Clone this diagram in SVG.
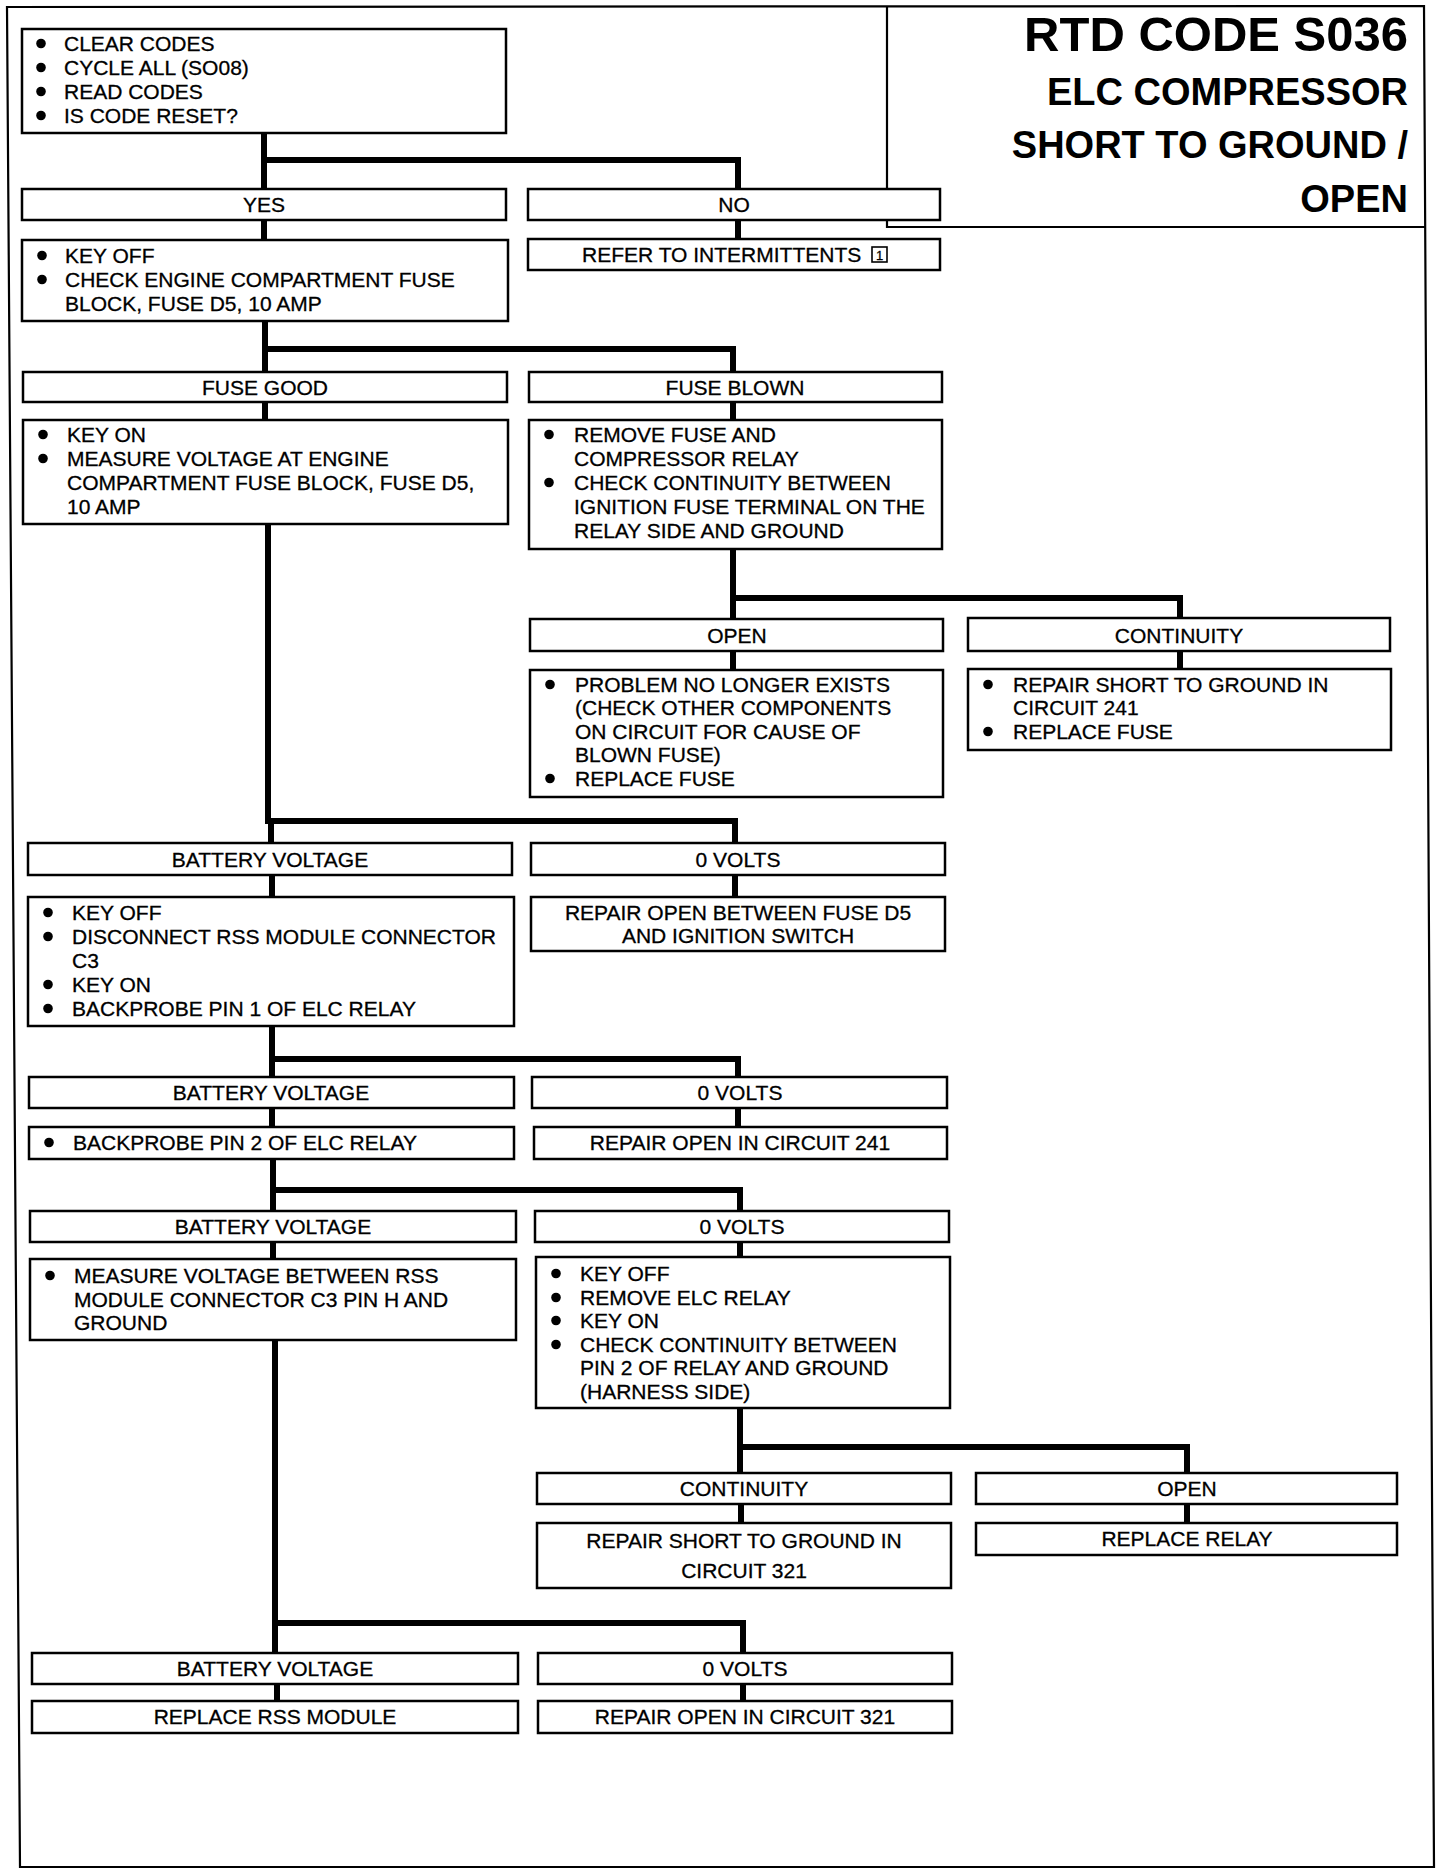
<svg xmlns="http://www.w3.org/2000/svg" width="1456" height="1876" viewBox="0 0 1456 1876">
<style>
  .box { fill: #fff; stroke: #000; stroke-width: 2.5; }
  .frame { fill: none; stroke: #000; stroke-width: 2.2; }
  .conn { fill: none; stroke: #000; stroke-width: 6; stroke-linecap: square; stroke-linejoin: miter; }
  text { font-family: "Liberation Sans", Arial, sans-serif; font-size: 21px; fill: #000; stroke: #000; stroke-width: 0.3; }
  .c { text-anchor: middle; }
  .title { font-weight: bold; text-anchor: end; font-size: 38px; stroke-width: 0; }
  .t1 { font-size: 49px; }
  .dot { fill: #000; }
</style>
<defs>
  <circle id="b" r="4.8" class="dot"/>
</defs>
<rect width="1456" height="1876" fill="#fff"/>
<polygon class="frame" points="7,7 1424,6 1434,1867 20,1867"/>

<g id="title">
  <path class="frame" d="M887,7 V227 H1425" stroke-width="2.5"/>
  <text class="title t1" x="1408" y="51">RTD CODE S036</text>
  <text class="title" x="1408" y="105">ELC COMPRESSOR</text>
  <text class="title" x="1408" y="158">SHORT TO GROUND /</text>
  <text class="title" x="1408" y="212">OPEN</text>
</g>

<g id="connectors">
  <path class="conn" d="M264,133 V189 M264,160 H738 V189"/>
  <path class="conn" d="M264,220 V239 M738,220 V239"/>
  <path class="conn" d="M265,321 V372 M265,349 H733 V372"/>
  <path class="conn" d="M265,402 V420 M733,402 V420"/>
  <path class="conn" d="M733,549 V619 M733,598 H1180 V617"/>
  <path class="conn" d="M733,651 V670 M1180,651 V669"/>
  <path class="conn" d="M268,524 V821 H735 V843 M271,821 V843"/>
  <path class="conn" d="M272,875 V897 M735,875 V897"/>
  <path class="conn" d="M272,1026 V1077 M272,1059 H738 V1077"/>
  <path class="conn" d="M272,1108 V1127 M738,1108 V1127"/>
  <path class="conn" d="M273,1159 V1211 M273,1190 H740 V1211"/>
  <path class="conn" d="M273,1242 V1259 M740,1242 V1257"/>
  <path class="conn" d="M740,1408 V1473 M740,1447 H1187 V1473"/>
  <path class="conn" d="M741,1504 V1523 M1187,1504 V1523"/>
  <path class="conn" d="M275,1340 V1653 M275,1623 H743 V1653"/>
  <path class="conn" d="M277,1684 V1701 M743,1684 V1701"/>
</g>

<g id="n-start">
  <rect class="box" x="22" y="29" width="484" height="104"/>
  <use href="#b" x="41" y="43.5"/><text x="64" y="51">CLEAR CODES</text>
  <use href="#b" x="41" y="67.5"/><text x="64" y="75">CYCLE ALL (SO08)</text>
  <use href="#b" x="41" y="91.5"/><text x="64" y="99">READ CODES</text>
  <use href="#b" x="41" y="115.5"/><text x="64" y="123">IS CODE RESET?</text>
</g>
<g id="n-yes">
  <rect class="box" x="22" y="189" width="484" height="31"/>
  <text class="c" x="264" y="212">YES</text>
</g>
<g id="n-no">
  <rect class="box" x="528" y="189" width="412" height="31"/>
  <text class="c" x="734" y="212">NO</text>
</g>
<g id="n-keyoff1">
  <rect class="box" x="22" y="240" width="486" height="81"/>
  <use href="#b" x="42" y="255.5"/><text x="65" y="263">KEY OFF</text>
  <use href="#b" x="42" y="279.5"/><text x="65" y="287">CHECK ENGINE COMPARTMENT FUSE</text>
  <text x="65" y="311">BLOCK, FUSE D5, 10 AMP</text>
</g>
<g id="n-refer">
  <rect class="box" x="528" y="239" width="412" height="31"/>
  <text x="582" y="262">REFER TO INTERMITTENTS</text>
  <rect x="872" y="247" width="15" height="15" fill="none" stroke="#000" stroke-width="1.6"/>
  <text class="c" x="879.5" y="259.5" style="font-size:13px">1</text>
</g>
<g id="n-fusegood">
  <rect class="box" x="23" y="372" width="484" height="30"/>
  <text class="c" x="265" y="394.5">FUSE GOOD</text>
</g>
<g id="n-fuseblown">
  <rect class="box" x="529" y="372" width="413" height="30"/>
  <text class="c" x="735" y="394.5">FUSE BLOWN</text>
</g>
<g id="n-keyon">
  <rect class="box" x="23" y="420" width="485" height="104"/>
  <use href="#b" x="43" y="434.5"/><text x="67" y="442">KEY ON</text>
  <use href="#b" x="43" y="458.5"/><text x="67" y="466">MEASURE VOLTAGE AT ENGINE</text>
  <text x="67" y="490">COMPARTMENT FUSE BLOCK, FUSE D5,</text>
  <text x="67" y="514">10 AMP</text>
</g>
<g id="n-remove">
  <rect class="box" x="529" y="420" width="413" height="129"/>
  <use href="#b" x="549" y="434.5"/><text x="574" y="442">REMOVE FUSE AND</text>
  <text x="574" y="466">COMPRESSOR RELAY</text>
  <use href="#b" x="549" y="482.5"/><text x="574" y="490">CHECK CONTINUITY BETWEEN</text>
  <text x="574" y="514">IGNITION FUSE TERMINAL ON THE</text>
  <text x="574" y="538">RELAY SIDE AND GROUND</text>
</g>
<g id="n-open1">
  <rect class="box" x="530" y="619" width="413" height="32"/>
  <text class="c" x="737" y="642.5">OPEN</text>
</g>
<g id="n-cont1">
  <rect class="box" x="968" y="618" width="422" height="33"/>
  <text class="c" x="1179" y="642.5">CONTINUITY</text>
</g>
<g id="n-problem">
  <rect class="box" x="530" y="670" width="413" height="127"/>
  <use href="#b" x="550" y="684.5"/><text x="575" y="692">PROBLEM NO LONGER EXISTS</text>
  <text x="575" y="715">(CHECK OTHER COMPONENTS</text>
  <text x="575" y="739">ON CIRCUIT FOR CAUSE OF</text>
  <text x="575" y="762">BLOWN FUSE)</text>
  <use href="#b" x="550" y="778.5"/><text x="575" y="786">REPLACE FUSE</text>
</g>
<g id="n-short241">
  <rect class="box" x="968" y="669" width="423" height="81"/>
  <use href="#b" x="988" y="684.5"/><text x="1013" y="692">REPAIR SHORT TO GROUND IN</text>
  <text x="1013" y="715">CIRCUIT 241</text>
  <use href="#b" x="988" y="731.5"/><text x="1013" y="739">REPLACE FUSE</text>
</g>
<g id="n-batt1">
  <rect class="box" x="28" y="843" width="484" height="32"/>
  <text class="c" x="270" y="866.5">BATTERY VOLTAGE</text>
</g>
<g id="n-zero1">
  <rect class="box" x="531" y="843" width="414" height="32"/>
  <text class="c" x="738" y="866.5">0 VOLTS</text>
</g>
<g id="n-keyoff2">
  <rect class="box" x="28" y="897" width="486" height="129"/>
  <use href="#b" x="48" y="912.5"/><text x="72" y="920">KEY OFF</text>
  <use href="#b" x="48" y="936.5"/><text x="72" y="944">DISCONNECT RSS MODULE CONNECTOR</text>
  <text x="72" y="968">C3</text>
  <use href="#b" x="48" y="984.5"/><text x="72" y="992">KEY ON</text>
  <use href="#b" x="48" y="1008.5"/><text x="72" y="1016">BACKPROBE PIN 1 OF ELC RELAY</text>
</g>
<g id="n-opend5">
  <rect class="box" x="531" y="897" width="414" height="54"/>
  <text class="c" x="738" y="920">REPAIR OPEN BETWEEN FUSE D5</text>
  <text class="c" x="738" y="943">AND IGNITION SWITCH</text>
</g>
<g id="n-batt2">
  <rect class="box" x="29" y="1077" width="485" height="31"/>
  <text class="c" x="271" y="1100">BATTERY VOLTAGE</text>
</g>
<g id="n-zero2">
  <rect class="box" x="532" y="1077" width="415" height="31"/>
  <text class="c" x="740" y="1100">0 VOLTS</text>
</g>
<g id="n-backprobe2">
  <rect class="box" x="29" y="1127" width="485" height="32"/>
  <use href="#b" x="49" y="1142.5"/><text x="73" y="1150">BACKPROBE PIN 2 OF ELC RELAY</text>
</g>
<g id="n-open241">
  <rect class="box" x="534" y="1127" width="413" height="32"/>
  <text class="c" x="740" y="1150">REPAIR OPEN IN CIRCUIT 241</text>
</g>
<g id="n-batt3">
  <rect class="box" x="30" y="1211" width="486" height="31"/>
  <text class="c" x="273" y="1234">BATTERY VOLTAGE</text>
</g>
<g id="n-zero3">
  <rect class="box" x="535" y="1211" width="414" height="31"/>
  <text class="c" x="742" y="1234">0 VOLTS</text>
</g>
<g id="n-measure">
  <rect class="box" x="30" y="1259" width="486" height="81"/>
  <use href="#b" x="50" y="1275.5"/><text x="74" y="1283">MEASURE VOLTAGE BETWEEN  RSS</text>
  <text x="74" y="1307">MODULE CONNECTOR C3 PIN H AND</text>
  <text x="74" y="1330">GROUND</text>
</g>
<g id="n-keyoff3">
  <rect class="box" x="536" y="1257" width="414" height="151"/>
  <use href="#b" x="556" y="1273.5"/><text x="580" y="1281">KEY OFF</text>
  <use href="#b" x="556" y="1297.5"/><text x="580" y="1305">REMOVE ELC RELAY</text>
  <use href="#b" x="556" y="1320.5"/><text x="580" y="1328">KEY ON</text>
  <use href="#b" x="556" y="1344.5"/><text x="580" y="1352">CHECK CONTINUITY BETWEEN</text>
  <text x="580" y="1375">PIN 2 OF RELAY AND GROUND</text>
  <text x="580" y="1399">(HARNESS SIDE)</text>
</g>
<g id="n-cont2">
  <rect class="box" x="537" y="1473" width="414" height="31"/>
  <text class="c" x="744" y="1496">CONTINUITY</text>
</g>
<g id="n-open2">
  <rect class="box" x="976" y="1473" width="421" height="31"/>
  <text class="c" x="1187" y="1496">OPEN</text>
</g>
<g id="n-short321">
  <rect class="box" x="537" y="1523" width="414" height="65"/>
  <text class="c" x="744" y="1548">REPAIR SHORT TO GROUND IN</text>
  <text class="c" x="744" y="1578">CIRCUIT 321</text>
</g>
<g id="n-relay">
  <rect class="box" x="976" y="1523" width="421" height="32"/>
  <text class="c" x="1187" y="1546">REPLACE RELAY</text>
</g>
<g id="n-batt4">
  <rect class="box" x="32" y="1653" width="486" height="31"/>
  <text class="c" x="275" y="1676">BATTERY VOLTAGE</text>
</g>
<g id="n-zero4">
  <rect class="box" x="538" y="1653" width="414" height="31"/>
  <text class="c" x="745" y="1676">0 VOLTS</text>
</g>
<g id="n-rss">
  <rect class="box" x="32" y="1701" width="486" height="32"/>
  <text class="c" x="275" y="1724">REPLACE RSS MODULE</text>
</g>
<g id="n-open321">
  <rect class="box" x="538" y="1701" width="414" height="32"/>
  <text class="c" x="745" y="1724">REPAIR OPEN IN CIRCUIT 321</text>
</g>
</svg>
